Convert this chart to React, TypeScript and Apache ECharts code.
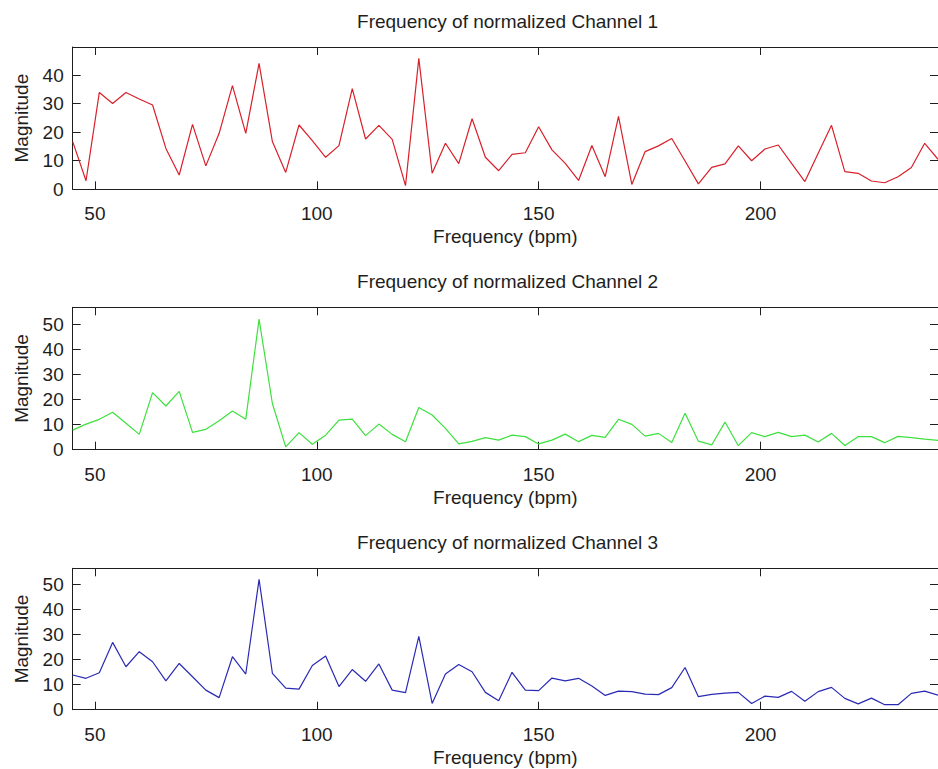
import React, { useEffect, useRef } from "react";
import * as echarts from "echarts";

const FREQ = [
  45, 48, 51, 54, 57, 60, 63, 66, 69, 72, 75, 78, 81, 84, 87, 90, 93, 96, 99, 102,
  105, 108, 111, 114, 117, 120, 123, 126, 129, 132, 135, 138, 141, 144, 147, 150,
  153, 156, 159, 162, 165, 168, 171, 174, 177, 180, 183, 186, 189, 192, 195, 198,
  201, 204, 207, 210, 213, 216, 219, 222, 225, 228, 231, 234, 237, 240,
];

const CH1 = [
  16.7, 3.0, 33.9, 30.0, 33.9, 31.6, 29.5, 14.3, 5.0, 22.7, 8.2, 19.6, 36.3, 19.6, 44.1, 16.7, 5.9, 22.5, 17.0, 11.2,
  15.3, 35.2, 17.6, 22.4, 17.5, 1.3, 45.8, 5.6, 16.1, 9.0, 24.7, 11.2, 6.5, 12.2, 12.8, 21.9,
  13.8, 9.1, 3.1, 15.3, 4.4, 25.5, 1.7, 13.2, 15.2, 17.8, 9.9, 1.9, 7.7, 8.9, 15.2, 10.0,
  14.1, 15.5, 9.1, 2.7, 12.6, 22.4, 6.2, 5.6, 2.9, 2.3, 4.4, 7.6, 16.1, 10.5,
];

const CH2 = [
  7.8, 10.2, 12.1, 14.9, 10.5, 6.1, 22.7, 17.4, 23.2, 6.9, 8.1, 11.5, 15.4, 12.1, 52.0, 18.4, 1.1, 6.8, 2.2, 5.8,
  11.8, 12.2, 5.6, 10.2, 6.1, 3.2, 16.8, 13.8, 8.5, 2.3, 3.3, 4.8, 3.8, 5.8, 5.2, 2.3,
  3.8, 6.2, 3.2, 5.7, 4.9, 12.1, 10.1, 5.4, 6.5, 2.9, 14.5, 3.4, 1.9, 11.0, 1.6, 6.8,
  5.2, 6.9, 5.2, 5.8, 3.1, 6.5, 1.7, 5.2, 5.2, 2.8, 5.3, 4.8, 4.2, 3.7,
];

const CH3 = [
  13.8, 12.5, 14.7, 26.8, 17.1, 23.1, 19.1, 11.5, 18.4, 13.1, 7.8, 4.8, 21.1, 14.2, 51.9, 14.5, 8.6, 8.2, 17.6, 21.4,
  9.2, 16.0, 11.3, 18.2, 7.8, 6.8, 29.2, 2.5, 14.2, 18.0, 15.1, 6.9, 3.6, 14.9, 7.8, 7.6,
  12.6, 11.5, 12.5, 9.4, 5.7, 7.4, 7.2, 6.2, 6.0, 8.8, 16.8, 5.2, 6.1, 6.6, 6.9, 2.5,
  5.4, 4.9, 7.3, 3.4, 7.2, 8.9, 4.5, 2.3, 4.6, 2.0, 2.0, 6.5, 7.4, 5.8,
];

const TITLES = [
  "Frequency of normalized Channel 1",
  "Frequency of normalized Channel 2",
  "Frequency of normalized Channel 3",
];
const X_TICKS = [50, 100, 150, 200];
const Y_TICKS_1 = [0, 10, 20, 30, 40];
const Y_TICKS_23 = [0, 10, 20, 30, 40, 50];
const X_NAME = "Frequency (bpm)";
const Y_NAME = "Magnitude";

const FONT = "'Liberation Sans', Arial, Helvetica, sans-serif";
const INK = "#1e1e1e";

export default function App() {
  const ref = useRef<HTMLDivElement>(null);

  useEffect(() => {
    document.body.style.margin = "0";
    if (!ref.current) return;
    const chart = echarts.init(ref.current, null, { renderer: "svg" });

    const left = 72.7;
    const width = 869.7;
    const panels = [
      { top: 47, height: 142.3, ymax: 49.8, yticks: Y_TICKS_1, data: CH1, color: "#d8202a" },
      { top: 307.3, height: 142.4, ymax: 56.7, yticks: Y_TICKS_23, data: CH2, color: "#3ee03e" },
      { top: 568.3, height: 141.4, ymax: 56.3, yticks: Y_TICKS_23, data: CH3, color: "#2a2ab5" },
    ];

    const lineStyle = { color: INK, width: 1 };
    const grid: any[] = [];
    const xAxis: any[] = [];
    const yAxis: any[] = [];
    const series: any[] = [];
    const graphic: any[] = [];

    panels.forEach((p, i) => {
      grid.push({ left, width, top: p.top, height: p.height, containLabel: false });
      xAxis.push({
        type: "value",
        gridIndex: i,
        min: 45,
        max: 240,
        position: "bottom",
        axisLine: { show: true, onZero: false, lineStyle },
        axisTick: { show: true, inside: true, length: 8, customValues: X_TICKS, lineStyle },
        axisLabel: { customValues: X_TICKS, margin: 15, fontSize: 19, color: INK, fontFamily: FONT },
        splitLine: { show: false },
        name: X_NAME,
        nameLocation: "middle",
        nameGap: 38,
        nameTextStyle: { fontSize: 19, color: INK, fontFamily: FONT },
      });
      xAxis.push({
        type: "value",
        gridIndex: i,
        min: 45,
        max: 240,
        position: "top",
        axisLine: { show: true, onZero: false, lineStyle },
        axisTick: { show: true, inside: true, length: 8, customValues: X_TICKS, lineStyle },
        axisLabel: { show: false },
        splitLine: { show: false },
      });
      yAxis.push({
        type: "value",
        gridIndex: i,
        min: 0,
        max: p.ymax,
        position: "left",
        axisLine: { show: true, onZero: false, lineStyle },
        axisTick: { show: true, inside: true, length: 8, customValues: p.yticks, lineStyle },
        axisLabel: { customValues: p.yticks, margin: 9, fontSize: 19, color: INK, fontFamily: FONT },
        splitLine: { show: false },
        name: Y_NAME,
        nameLocation: "middle",
        nameGap: 42,
        nameTextStyle: { fontSize: 19, color: INK, fontFamily: FONT },
      });
      yAxis.push({
        type: "value",
        gridIndex: i,
        min: 0,
        max: p.ymax,
        position: "right",
        axisLine: { show: true, onZero: false, lineStyle },
        axisTick: { show: true, inside: true, length: 8, customValues: p.yticks, lineStyle },
        axisLabel: { show: false },
        splitLine: { show: false },
      });
      series.push({
        type: "line",
        xAxisIndex: i * 2,
        yAxisIndex: i * 2,
        data: FREQ.map((f, k) => [f, p.data[k]]),
        showSymbol: false,
        lineStyle: { color: p.color, width: 1.2 },
        itemStyle: { color: p.color },
        clip: true,
      });
      graphic.push({
        type: "text",
        x: left + width / 2,
        y: p.top - 26,
        style: {
          text: TITLES[i],
          align: "center",
          verticalAlign: "middle",
          fontSize: 19,
          fontFamily: FONT,
          fill: INK,
        },
      });
    });

    chart.setOption({
      animation: false,
      backgroundColor: "#ffffff",
      grid,
      xAxis,
      yAxis,
      series,
      graphic,
    });

    return () => chart.dispose();
  }, []);

  return <div ref={ref} style={{ width: 938, height: 769 }} />;
}
